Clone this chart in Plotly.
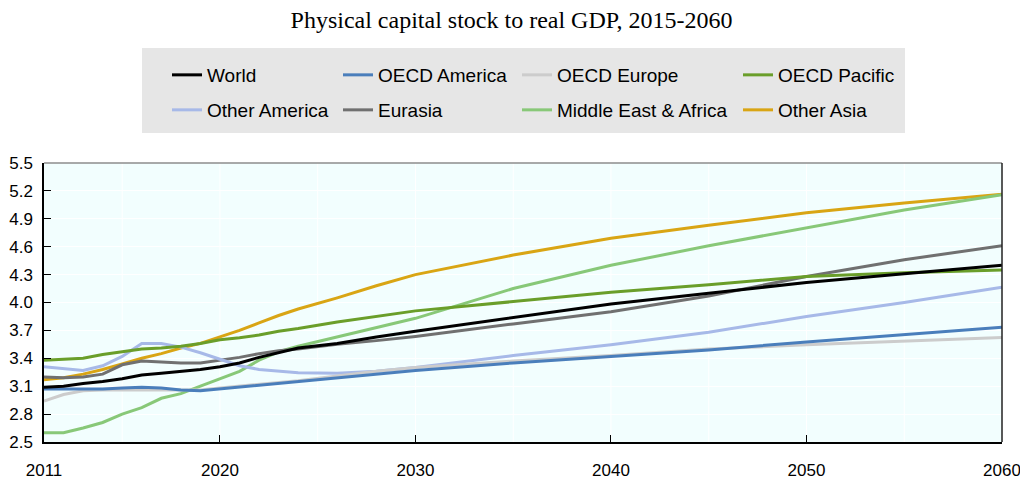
import plotly.graph_objects as go

years = [2011, 2012, 2013, 2014, 2015, 2016, 2017, 2018, 2019, 2020, 2021, 2022,
         2023, 2024, 2026, 2028, 2030, 2035, 2040, 2045, 2050, 2055, 2060]

world = [3.09, 3.10, 3.13, 3.15, 3.18, 3.22, 3.24, 3.26, 3.28, 3.31, 3.35, 3.41,
         3.46, 3.51, 3.56, 3.63, 3.69, 3.84, 3.985, 4.10, 4.215, 4.31, 4.40]
oecd_america = [3.07, 3.07, 3.07, 3.07, 3.08, 3.09, 3.08, 3.06, 3.05, 3.07, 3.09, 3.11,
                3.13, 3.15, 3.19, 3.23, 3.27, 3.35, 3.42, 3.49, 3.575, 3.655, 3.735]
oecd_europe = [2.94, 3.01, 3.05, 3.06, 3.06, 3.06, 3.06, 3.06, 3.06, 3.08, 3.10, 3.12,
               3.14, 3.16, 3.21, 3.26, 3.30, 3.37, 3.43, 3.50, 3.545, 3.585, 3.625]
oecd_pacific = [3.38, 3.39, 3.40, 3.44, 3.47, 3.50, 3.51, 3.53, 3.56, 3.60, 3.62, 3.65,
                3.69, 3.72, 3.79, 3.85, 3.91, 4.01, 4.11, 4.19, 4.28, 4.32, 4.35]
other_america = [3.31, 3.29, 3.27, 3.32, 3.42, 3.56, 3.56, 3.52, 3.46, 3.39, 3.32, 3.28,
                 3.26, 3.245, 3.24, 3.26, 3.30, 3.43, 3.545, 3.68, 3.85, 4.00, 4.165]
eurasia = [3.20, 3.19, 3.20, 3.23, 3.33, 3.37, 3.36, 3.35, 3.35, 3.38, 3.41, 3.45,
           3.48, 3.50, 3.55, 3.59, 3.635, 3.77, 3.90, 4.07, 4.28, 4.46, 4.61]
mid_east_africa = [2.60, 2.60, 2.65, 2.71, 2.80, 2.87, 2.97, 3.02, 3.10, 3.18, 3.26, 3.38,
                   3.47, 3.53, 3.63, 3.73, 3.83, 4.15, 4.40, 4.61, 4.80, 4.995, 5.16]
other_asia = [3.17, 3.19, 3.23, 3.28, 3.34, 3.40, 3.45, 3.51, 3.56, 3.63, 3.70, 3.78,
              3.86, 3.93, 4.05, 4.18, 4.30, 4.51, 4.69, 4.83, 4.965, 5.07, 5.165]

names = ["World", "OECD America", "OECD Europe", "OECD Pacific",
         "Other America", "Eurasia", "Middle East & Africa", "Other Asia"]
values = [world, oecd_america, oecd_europe, oecd_pacific,
          other_america, eurasia, mid_east_africa, other_asia]
colors = ["#000000", "#4A7EBB", "#CCCCCC", "#6A9E2A",
          "#A7B9E8", "#707070", "#88C878", "#D9A514"]

x_ticks = [2011, 2020, 2030, 2040, 2050, 2060]
y_ticks = [2.5, 2.8, 3.1, 3.4, 3.7, 4.0, 4.3, 4.6, 4.9, 5.2, 5.5]

SANS = "Liberation Sans, Arial, sans-serif"

# the page body has an 8px margin: figure offset by it
OFF = 8
FIG_W, FIG_H = 1028 - OFF, 493 - 2 * OFF

# plot area in page pixels, converted to figure pixels
L, R, T, B = 44 - OFF, 1002 - OFF, 163 - OFF, 442 - OFF
W_, H_ = R - L, B - T

def px_x(p):
    return (p - OFF - L) / W_

def px_y(p):
    return (B - (p - OFF)) / H_

# legend layout (page pixel positions of each entry's text start and row centre)
col_text_x = [207, 378, 557, 778]
row_y = [75, 110]

fig = go.Figure()
layout_legends = {}
for i, (nm, v, c) in enumerate(zip(names, values, colors)):
    key = "legend" if i == 0 else f"legend{i + 1}"
    row, col = divmod(i, 4)
    fig.add_trace(go.Scatter(x=years, y=v, name=nm, mode="lines",
                             line=dict(color=c, width=3), legend=key))
    layout_legends[key] = dict(
        x=px_x(col_text_x[col] - 40), y=px_y(row_y[row]),
        xanchor="left", yanchor="middle", xref="paper", yref="paper",
        bgcolor="rgba(0,0,0,0)", borderwidth=0,
        font=dict(family=SANS, size=19, color="#000000"),
        itemwidth=30,
    )

# draw line traces in reverse so World is on top
fig.data = fig.data[::-1]

shapes = [
    # legend box
    dict(type="rect", xref="paper", yref="paper",
         x0=px_x(142), x1=px_x(905), y0=px_y(133), y1=px_y(48),
         fillcolor="#E6E6E6", line=dict(width=0), layer="below"),
    # top frame (grey)
    dict(type="line", xref="paper", yref="paper", x0=0, x1=1, y0=1, y1=1,
         line=dict(color="#8C8C8C", width=1.5)),
    # right frame
    dict(type="line", xref="paper", yref="paper", x0=1, x1=1, y0=0, y1=1,
         line=dict(color="#222222", width=1.5)),
]

fig.update_layout(
    width=FIG_W, height=FIG_H,
    margin=dict(l=L, r=FIG_W - R, t=T, b=FIG_H - B, pad=0, autoexpand=False),
    paper_bgcolor="#FFFFFF",
    plot_bgcolor="#F2FEFE",
    title=dict(text="Physical capital stock to real GDP, 2015-2060",
               x=(511.5 - OFF) / FIG_W, xref="container", xanchor="center",
               y=1 - (20 - OFF) / FIG_H, yref="container", yanchor="middle",
               font=dict(family="Liberation Serif, Times New Roman, serif",
                         size=24, color="#000000")),
    shapes=shapes,
    showlegend=True,
    **layout_legends,
)

fig.update_xaxes(
    range=[2011, 2060], tickvals=x_ticks, ticktext=[str(t) for t in x_ticks],
    ticks="inside", ticklen=7, tickcolor="#000000", tickwidth=1,
    showline=True, linecolor="#000000", linewidth=1.5,
    showgrid=False, zeroline=False, automargin=False,
    ticklabeloverflow="allow",
    tickfont=dict(family=SANS, size=17, color="#000000"),
    ticklabelstandoff=12,
)
fig.update_yaxes(
    range=[2.5, 5.5], tickvals=y_ticks, ticktext=[f"{t:.1f}" for t in y_ticks],
    ticks="inside", ticklen=7, tickcolor="#000000", tickwidth=1,
    showline=True, linecolor="#000000", linewidth=1.5,
    showgrid=True, gridcolor="#FFFFFF", gridwidth=1, zeroline=False,
    automargin=False, ticklabeloverflow="allow",
    tickfont=dict(family=SANS, size=17, color="#000000"),
    ticklabelstandoff=6,
)

# vertical white grid lines every five years
for yr in range(2015, 2060, 5):
    fig.add_vline(x=yr, line=dict(color="#FFFFFF", width=1), layer="below")

fig.write_html("out.html")
